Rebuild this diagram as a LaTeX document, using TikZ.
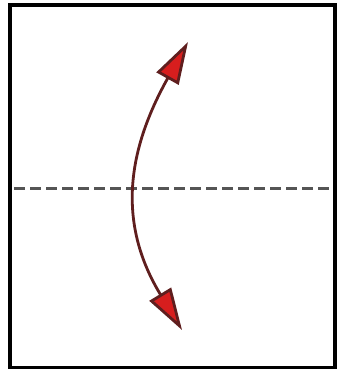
\documentclass[tikz,border=0pt]{standalone}
\usetikzlibrary{arrows.meta}
\definecolor{foldgray}{RGB}{85,85,85}
\definecolor{shaftred}{RGB}{95,30,30}
\definecolor{headred}{RGB}{215,30,30}
\begin{document}
\begin{tikzpicture}[x=1pt, y=-1pt,
    paper/.style={line width=3.5pt, draw=black},
    foldline/.style={line width=3pt, draw=foldgray, dash pattern=on 11pt off 5pt},
    swing/.style={line width=2.8pt, draw=shaftred,
      {Triangle[length=42pt,width=25pt,fill=headred]}-{Triangle[length=42pt,width=25pt,fill=headred]}}]
  \useasboundingbox (0,0) rectangle (339,376);
  \coordinate (topleft) at (10,5);
  \coordinate (botright) at (335,367.5);
  \coordinate (foldL) at (14,188);
  \coordinate (foldR) at (334,188);
  \coordinate (tipbot) at (182,330);
  \coordinate (tiptop) at (188,42);
  % sheet and fold line
  \draw[paper, fill=white] (topleft) rectangle (botright);
  \draw[foldline] (foldL) -- (foldR);
  % fold over
  \draw[swing] (tipbot) .. controls (117,223) and (127,151) .. (tiptop);
\end{tikzpicture}
\end{document}
